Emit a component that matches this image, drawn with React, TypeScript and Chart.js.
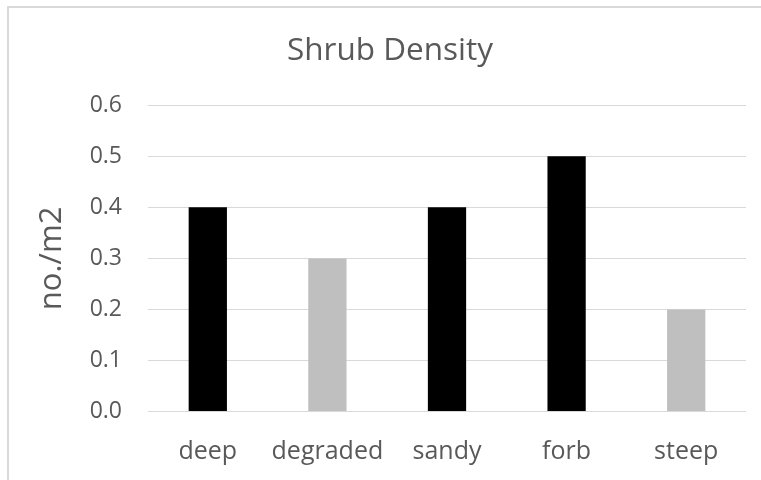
import React, { useEffect, useRef } from "react";
import { Chart, registerables } from "chart.js";

Chart.register(...registerables);

const categories = ["deep", "degraded", "sandy", "forb", "steep"];
const densityValues = [0.4, 0.3, 0.4, 0.5, 0.2];
const barColors = ["#000000", "#BFBFBF", "#000000", "#000000", "#BFBFBF"];
const yTickMin = 0;
const yTickMax = 0.6;
const yTickStep = 0.1;
const chartTitle = "Shrub Density";
const yAxisTitle = "no./m2";

const FONT = "'Open Sans', sans-serif";
const TEXT = "#595959";
const GRID = "#D9D9D9";

export default function App() {
  const ref = useRef<HTMLCanvasElement | null>(null);

  useEffect(() => {
    if (!ref.current) return;
    const chart = new Chart(ref.current, {
      type: "bar",
      data: {
        labels: categories,
        datasets: [
          {
            data: densityValues,
            backgroundColor: barColors,
            borderWidth: 0,
            categoryPercentage: 1,
            barPercentage: 0.32,
          },
        ],
      },
      options: {
        animation: false,
        responsive: false,
        maintainAspectRatio: false,
        layout: { padding: { left: 34, right: 15, top: 0, bottom: 0 } },
        plugins: {
          legend: { display: false },
          tooltip: { enabled: false },
          title: {
            display: true,
            text: chartTitle,
            color: TEXT,
            font: { family: FONT, size: 31.5, weight: "normal" },
            padding: { top: 32, bottom: 35.5 },
          },
        },
        scales: {
          x: {
            grid: { display: false },
            border: { display: false },
            ticks: {
              color: TEXT,
              font: { family: FONT, size: 25 },
              padding: 17,
              maxRotation: 0,
            },
            afterFit: (scale: any) => {
              scale.height = 68.5;
            },
          },
          y: {
            min: yTickMin,
            max: yTickMax,
            grid: { color: GRID, lineWidth: 1, drawTicks: false },
            border: { display: false },
            ticks: {
              stepSize: yTickStep,
              color: TEXT,
              font: { family: FONT, size: 23 },
              padding: 26,
              callback: (v: any) => Number(v).toFixed(1),
            },
            title: {
              display: true,
              text: yAxisTitle,
              color: TEXT,
              font: { family: FONT, size: 31 },
              padding: { top: 0, bottom: 0 },
            },
            afterFit: (scale: any) => {
              scale.width = 114;
            },
          },
        },
      },
    });
    return () => chart.destroy();
  }, []);

  return (
    <div
      style={{
        position: "fixed",
        left: 0,
        top: 0,
        width: 761,
        height: 480,
        overflow: "hidden",
        background: "#fff",
      }}
    >
      <div
        style={{
          position: "absolute",
          left: 7,
          top: 6,
          width: 800,
          height: 520,
          border: "2px solid #D9D9D9",
          boxSizing: "border-box",
        }}
      />
      <canvas ref={ref} width={761} height={480} style={{ position: "absolute", left: 0, top: 0, display: "block" }} />
    </div>
  );
}
